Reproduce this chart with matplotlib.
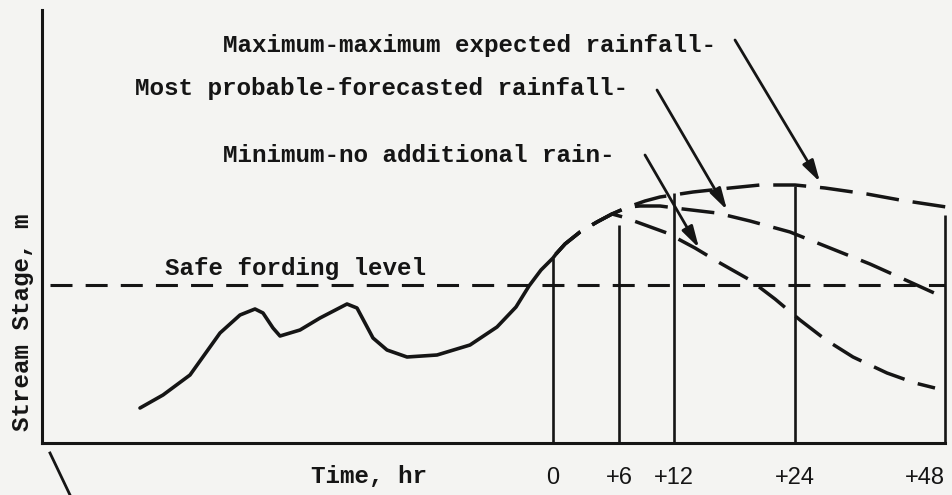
import numpy as np
import matplotlib.pyplot as plt

ink = '#151515'
paper = '#f4f4f2'
mono = 'Liberation Mono'

# observed stage (schematic units, x along time axis, y = stage)
obs_x = [98, 121, 148, 178, 198, 213, 221, 231, 238, 258, 278, 305, 315, 331,
         345, 365, 395, 428, 455, 474, 487, 499, 511, 514]
obs_y = [35, 48, 68, 110, 128, 134, 130, 115, 107, 113, 125, 139, 135, 105,
         93, 86, 88, 98, 116, 136, 157, 173, 185, 189]

# shared rise of the forecasts after time 0
rise_x = [514, 523, 538, 555, 570]
rise_y = [189, 199, 211, 221, 229]

# forecast branches
min_x = [581, 603, 625, 653, 678, 708, 733, 758, 784, 811, 845, 873, 893]
min_y = [226, 218, 210, 195, 180, 163, 144, 123, 103, 86, 70, 60, 55]
prob_x = [586, 598, 618, 641, 675, 708, 748, 788, 828, 868, 901]
prob_y = [236, 237, 237, 234, 230, 222, 211, 195, 179, 161, 146]
max_x = [586, 603, 618, 651, 688, 718, 753, 783, 825, 858, 911]
max_y = [236, 242, 246, 251, 255, 258, 258, 255, 249, 243, 235]

safe_level = 158
safe_span = [8, 903]

hour_x = [511, 577, 632, 753, 903]
hour_top = [185, 218, 250, 257, 228]
hour_labels = ['0', '+6', '+12', '+24', '+48']

fig = plt.figure(figsize=(9.53, 4.95), dpi=100, facecolor=paper)
ax = fig.add_axes([42 / 953, 52 / 495, 903 / 953, 433 / 495])
ax.set_facecolor(paper)
ax.set_xlim(0, 903)
ax.set_ylim(0, 433)
for s in ['top', 'right']:
    ax.spines[s].set_visible(False)
for s in ['left', 'bottom']:
    ax.spines[s].set_linewidth(2.2)
    ax.spines[s].set_color(ink)
    ax.spines[s].set_capstyle('projecting')
ax.set_yticks([])
ax.set_xticks(hour_x, hour_labels, fontfamily='Liberation Sans', fontsize=17, color=ink)
ax.tick_params(axis='x', length=0, pad=17)
ax.get_xticklabels()[-1].set_ha('right')

# forecast time markers
ax.vlines(hour_x, 0, hour_top, color=ink, lw=1.9, clip_on=False)

# safe fording level
ax.plot(safe_span, [safe_level, safe_level], color=ink, lw=2.2,
        linestyle=(0, (7.2, 4.3)), dash_capstyle='butt')

# observed hydrograph
ax.plot(obs_x, obs_y, color=ink, lw=2.6, solid_joinstyle='round', solid_capstyle='round')

# forecast curves share the same start so the dashes overlap
dash = (0, (9.5, 4))
for bx, by in [(min_x, min_y), (prob_x, prob_y), (max_x, max_y)]:
    ax.plot(rise_x + bx, rise_y + by, color=ink, lw=2.5, linestyle=dash,
            clip_on=False)

# labels with arrows
arrow = dict(arrowstyle='-|>,head_length=0.65,head_width=0.18', lw=2.0,
             color=ink, mutation_scale=20, shrinkA=0, shrinkB=0)
ax.annotate('', xy=(778, 261), xytext=(693, 403), arrowprops=arrow, annotation_clip=False)
ax.annotate('', xy=(685, 233), xytext=(615, 353), arrowprops=arrow, annotation_clip=False)
ax.annotate('', xy=(657, 195), xytext=(603, 288), arrowprops=arrow, annotation_clip=False)

txt = dict(family=mono, fontsize=17.5, weight='bold', color=ink, clip_on=False,
           va='baseline', ha='left')
ax.text(181, 391, 'Maximum-maximum expected rainfall-', **txt)
ax.text(93, 348, 'Most probable-forecasted rainfall-', **txt)
ax.text(181, 281, 'Minimum-no additional rain-', **txt)
ax.text(123, 168, 'Safe fording level', **txt)
ax.text(327, -40, 'Time, hr', family=mono, fontsize=17.5, weight='bold', color=ink,
        ha='center', va='baseline', clip_on=False)
ax.text(-20, 121, 'Stream Stage, m', family=mono, fontsize=17.5, weight='bold',
        color=ink, rotation=90, ha='center', va='center', clip_on=False)

# leader line at lower left
ax.plot([8, 28], [-10, -52], color=ink, lw=2.0, clip_on=False)

fig.savefig('out.png', dpi=100, facecolor=paper)
